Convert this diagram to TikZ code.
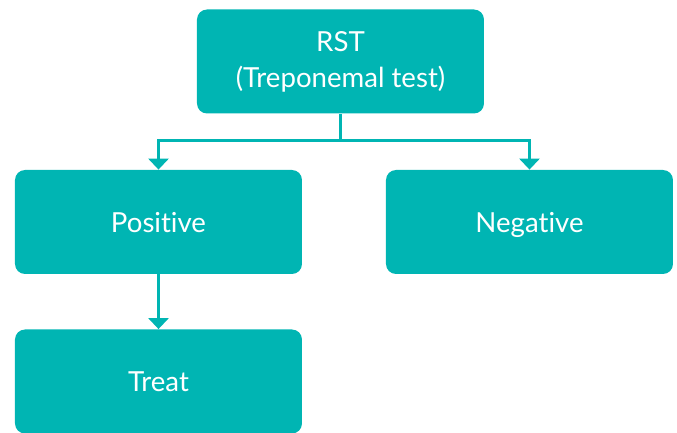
\documentclass[tikz,border=0pt]{standalone}
\usepackage{fontspec}
\setmainfont{Lato}[Ligatures=NoCommon]
\usetikzlibrary{arrows.meta}
\definecolor{teal}{RGB}{0,181,179}
\tikzset{box/.style={shape=rectangle,fill=teal,rounded corners=5pt,text=white,
    	minimum width=143.5pt,minimum height=52pt,align=center,font=\fontsize{13.8}{18}\selectfont},
    	single/.style={box,text depth=0pt},
    	link/.style={draw=teal,line width=1.5pt,-{Triangle[width=10pt,length=5.5pt]}}}
\begin{document}
\begin{tikzpicture}[x=0.5pt,y=-0.5pt]
			\useasboundingbox (0,0) rectangle (677,433);
			\node[box] (rst) at (340.5,61.5) {RST\\(Treponemal test)};
			\node[single] (pos) at (158.5,222) {Positive};
			\node[single] (neg) at (529.5,222) {Negative};
			\node[single] (treat) at (158.5,381.5) {Treat};
			\coordinate (split) at (340.5,141);
		
			\draw[link,-] (rst.south) -- (split);
			\draw[link] (split) -| (pos.north);
			\draw[link] (split) -| (neg.north);
			\draw[link] (pos.south) -- (treat.north);
		\end{tikzpicture}
\end{document}
